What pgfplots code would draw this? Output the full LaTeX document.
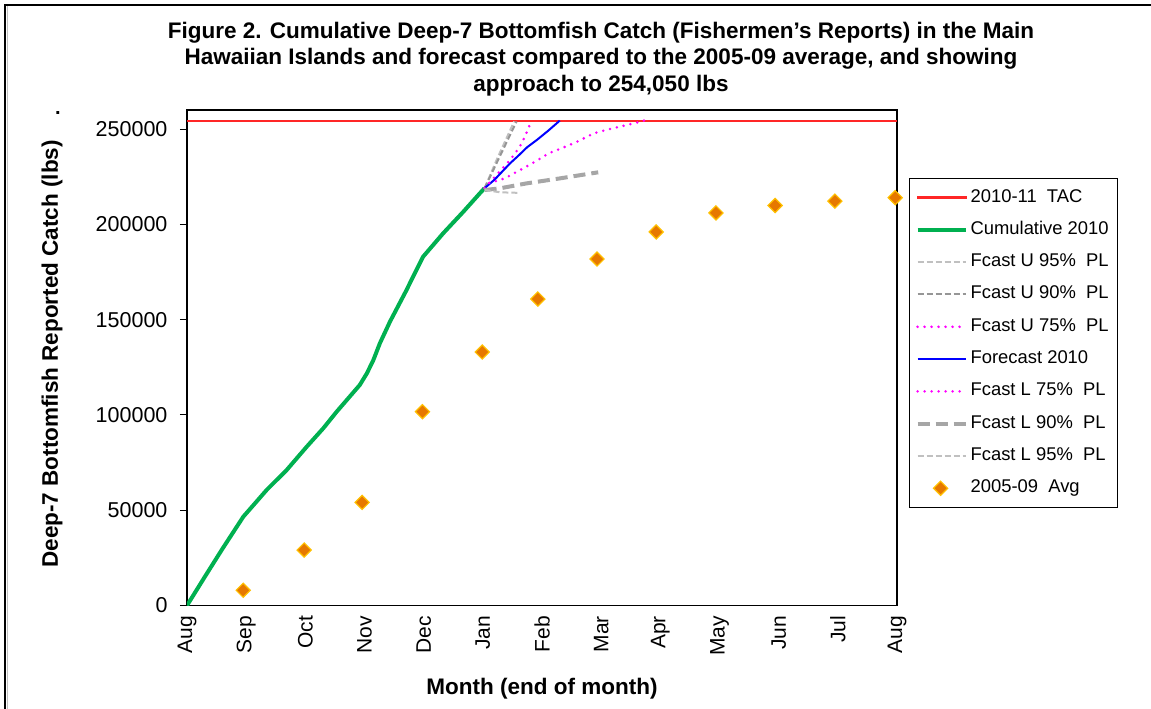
\documentclass[border=0pt]{standalone}
\usepackage{fontspec}
\setmainfont{Liberation Sans}
\usepackage{pgfplots}
\pgfplotsset{compat=1.18}
\definecolor{cumgreen}{RGB}{0,176,80}
\definecolor{lgray}{RGB}{192,192,192}
\definecolor{mgray}{RGB}{150,150,150}
\definecolor{tgray}{RGB}{166,166,166}
\definecolor{magen}{RGB}{255,0,255}
\definecolor{tacred}{rgb}{1,0.15,0.15}
\definecolor{dfill}{RGB}{230,120,0}
\definecolor{dborder}{RGB}{255,192,0}
\pgfplotsset{marklegend/.style={legend image code/.code={\draw[##1] plot coordinates {(25pt,0pt)};}},
  redlegend/.style={legend image code/.code={\fill[tacred] (2pt,-0.7pt) rectangle (50pt,0.7pt);}}}
\begin{document}
\begin{tikzpicture}
\useasboundingbox (-187pt,-103.5pt) rectangle (964pt,605.5pt);
\draw[line width=1.3pt,black] (-182pt,-103.5pt) -- (-182pt,600.5pt) -- (964pt,600.5pt);
\draw[line width=1pt,lgray] (-179.5pt,-103.5pt) -- (-179.5pt,599pt);
\begin{axis}[
  at={(0pt,0pt)}, anchor=south west,
  scale only axis, width=710pt, height=495.5pt,
  xmin=0, xmax=12, ymin=0, ymax=260000,
  axis line style={line width=1.5pt, black},
  xtick={0,1,2,3,4,5,6,7,8,9,10,11,12},
  xticklabels={Aug,Sep,Oct,Nov,Dec,Jan,Feb,Mar,Apr,May,Jun,Jul,Aug},
  xticklabel style={rotate=90, anchor=east, font=\fontsize{21}{24}\selectfont},
  xtick style={draw=none},
  ytick={0,50000,100000,150000,200000,250000},
  ytick pos=left,
  tick align=outside,
  major tick length=7pt,
  ytick style={line width=1pt, black},
  scaled y ticks=false,
  yticklabel style={/pgf/number format/fixed, /pgf/number format/1000 sep={}, /pgf/number format/assume math mode=true, font=\fontsize{21.5}{24}\selectfont, xshift=-9pt},
  xlabel={\textbf{Month (end of month)}},
  ylabel={\textbf{Deep-7 Bottomfish Reported Catch (lbs)}},
  every axis x label/.style={at={(rel axis cs:0.5,0)}, anchor=center, yshift=-83pt, font=\fontsize{22.5}{24}\selectfont},
  every axis y label/.style={at={(rel axis cs:0,0.5)}, rotate=90, anchor=center, yshift=135pt, xshift=4pt, font=\fontsize{22.5}{24}\selectfont},
  legend cell align=left,
  legend style={at={(1.0169,0.8628)}, anchor=north west, draw=black, line width=1.2pt,
    font=\fontsize{18.4}{20}\selectfont, inner xsep=6pt, inner ysep=7.5pt, row sep=9.3pt,
    nodes={inner sep=3pt, text height=13pt, text depth=4pt, line width=0.4pt}},
  legend image code/.code={\draw[#1] (2pt,0pt) -- (50pt,0pt);},
  clip=true,
]
\addplot[tacred, line width=1.8pt, redlegend] coordinates {(0,254050) (12,254050)};
\addlegendentry{2010-11\ \ TAC}
\addplot[cumgreen, line width=4pt, line join=round] coordinates {
(0,0) (0.3,15000) (0.6,29800) (0.952,46600) (1.346,60600) (1.685,71100)
(2.023,83300) (2.304,93000) (2.53,101700) (2.92,115700) (3.04,121800) (3.15,128800)
(3.26,137600) (3.43,148900) (3.71,165500) (3.82,172500) (3.99,183000) (4.33,195300)
(4.67,206600) (4.95,216300) (5.03,219000)};
\addlegendentry{Cumulative 2010}
\addplot[lgray, line width=2pt, dash pattern=on 6pt off 3pt] coordinates {
(5.03,219000) (5.25,235000) (5.53,254000)};
\addlegendentry{Fcast U 95\%\ \ PL}
\addplot[mgray, line width=2pt, dash pattern=on 6pt off 3pt] coordinates {
(5.03,219000) (5.3,236500) (5.57,254000)};
\addlegendentry{Fcast U 90\%\ \ PL}
\addplot[magen, line width=2.8pt, line cap=round, dash pattern=on 0pt off 7pt] coordinates {
(5.03,219000) (5.25,226500) (5.46,233700) (5.62,240500) (5.71,246000) (5.79,252000)};
\addlegendentry{Fcast U 75\%\ \ PL}
\addplot[blue, line width=2pt] coordinates {
(5.03,219000) (5.2,223500) (5.46,232000) (5.6,236000) (5.75,240500) (5.91,244200) (6.1,249000) (6.30,254400)};
\addlegendentry{Forecast 2010}
\addplot[magen, line width=2.8pt, line cap=round, dash pattern=on 0pt off 7pt] coordinates {
(5.03,219000) (5.09,221500) (5.37,224100) (5.63,228500) (5.88,232800) (6.11,237200) (6.33,239900)
(6.59,243300) (6.87,247700) (7.12,249800) (7.43,252100) (7.66,253800) (7.80,255300)};
\addlegendentry{Fcast L 75\%\ \ PL}
\addplot[tgray, line width=4pt, dash pattern=on 12pt off 6pt] coordinates {
(5.03,218000) (5.29,218900) (5.74,221500) (6.30,224100) (6.95,227300)};
\addlegendentry{Fcast L 90\%\ \ PL}
\addplot[lgray, line width=2pt, dash pattern=on 6pt off 3pt] coordinates {
(5.03,218000) (5.3,216800) (5.63,216500)};
\addlegendentry{Fcast L 95\%\ \ PL}
\addplot[only marks, mark=square*, mark size=5pt, mark options={rotate=45, fill=dfill, draw=dborder, line width=1.2pt}, marklegend] coordinates {
(0.95,8000) (1.98,29100) (2.96,54100) (3.98,101700) (4.99,133000) (5.93,160800)
(6.93,181800) (7.93,196000) (8.94,206000) (9.94,209900) (10.95,212200) (11.97,214000)};
\addlegendentry{2005-09\ \ Avg}
\end{axis}
\node[font=\bfseries\fontsize{22.5}{26.5}\selectfont, align=center] at (414pt,546.5pt)
{Figure 2. Cumulative Deep-7 Bottomfish Catch (Fishermen's Reports) in the Main\\
Hawaiian Islands and forecast compared to the 2005-09 average, and showing\\
approach to 254,050 lbs};
\node[font=\bfseries\fontsize{20}{20}\selectfont] at (-129pt,492pt) {.};
\end{tikzpicture}
\end{document}
